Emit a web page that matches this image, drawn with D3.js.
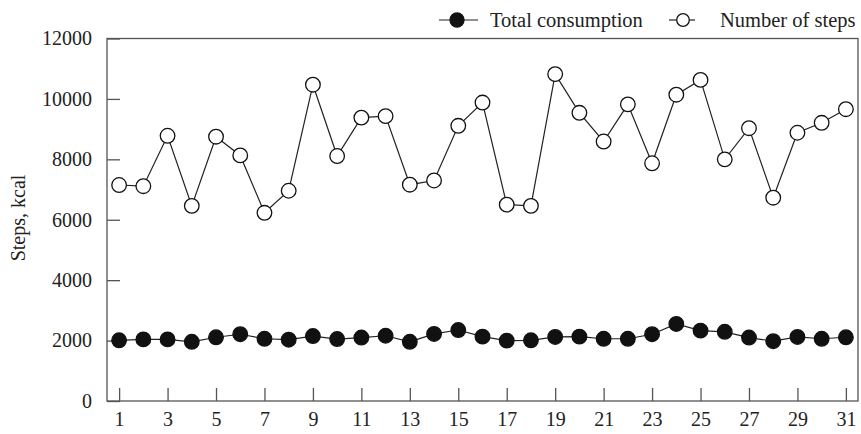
<!DOCTYPE html>
<html>
<head>
<meta charset="utf-8">
<script src="https://cdn.jsdelivr.net/npm/d3@7"></script>
<style>
  html, body { margin: 0; padding: 0; background: #fff; }
  svg { display: block; }
  text { font-family: "Liberation Serif", "DejaVu Serif", serif; fill: #222; }
</style>
</head>
<body>
<svg id="chart" width="861" height="434"></svg>
<script>
const days = d3.range(1, 32);
const steps = [7150, 7110, 8780, 6460, 8750, 8130, 6230, 6960, 10470, 8110,
               9380, 9430, 7160, 7300, 9110, 9880, 6500, 6460, 10820, 9540,
               8590, 9820, 7870, 10140, 10630, 8000, 9030, 6730, 8880, 9210, 9660];
const consumption = [2010, 2040, 2040, 1960, 2110, 2210, 2060, 2030, 2150, 2050,
                     2100, 2160, 1960, 2220, 2350, 2130, 2000, 2010, 2120, 2130,
                     2060, 2060, 2210, 2550, 2330, 2290, 2100, 1980, 2120, 2060, 2110];
const yTicks = [0, 2000, 4000, 6000, 8000, 10000, 12000];
const xTicks = [1, 3, 5, 7, 9, 11, 13, 15, 17, 19, 21, 23, 25, 27, 29, 31];
const seriesNames = ["Total consumption", "Number of steps"];

const svg = d3.select("#chart");
const m = { left: 107, right: 858, top: 38.5, bottom: 401 };
const x = d3.scaleLinear().domain([0.5, 31.5]).range([m.left, m.right]);
const y = d3.scaleLinear().domain([0, 12000]).range([m.bottom, m.top]);
const axisColor = "#555";
const lineColor = "#222";

// frame
svg.append("rect")
  .attr("x", m.left).attr("y", m.top)
  .attr("width", m.right - m.left).attr("height", m.bottom - m.top)
  .attr("fill", "none").attr("stroke", axisColor).attr("stroke-width", 1.3);

// y axis
const yAxis = svg.append("g").attr("transform", `translate(${m.left},0)`)
  .call(d3.axisLeft(y).tickValues(yTicks).tickSize(-13).tickPadding(15).tickFormat(d3.format("d")));
yAxis.select(".domain").remove();
yAxis.selectAll(".tick line").attr("stroke", axisColor).attr("stroke-width", 1.3);
yAxis.selectAll(".tick text").attr("font-size", 20).attr("font-family", "Liberation Serif").attr("fill", "#222");

// x axis
const xAxis = svg.append("g").attr("transform", `translate(0,${m.bottom})`)
  .call(d3.axisBottom(x).tickValues(xTicks).tickSize(-13).tickPadding(11).tickFormat(d3.format("d")));
xAxis.select(".domain").remove();
xAxis.selectAll(".tick line").attr("stroke", axisColor).attr("stroke-width", 1.3);
xAxis.selectAll(".tick text").attr("font-size", 20).attr("font-family", "Liberation Serif").attr("fill", "#222");

// y label
svg.append("text")
  .attr("transform", "translate(25,218) rotate(-90)")
  .attr("text-anchor", "middle")
  .attr("font-size", 20)
  .text("Steps, kcal");

const line = d3.line().x((d, i) => x(days[i])).y(d => y(d));

function drawSeries(vals, filled) {
  svg.append("path").datum(vals)
    .attr("d", line).attr("fill", "none")
    .attr("stroke", lineColor).attr("stroke-width", 1.2);
  svg.append("g").selectAll("circle").data(vals).join("circle")
    .attr("cx", (d, i) => x(days[i])).attr("cy", d => y(d))
    .attr("r", 7.3)
    .attr("fill", filled ? "#111" : "#fff")
    .attr("stroke", "#111").attr("stroke-width", 1.3);
}
drawSeries(steps, false);
drawSeries(consumption, true);

// legend
const ly = 20;
const leg = [
  { name: seriesNames[0], filled: true, x1: 439, x2: 478, cx: 457, r: 7, tx: 490 },
  { name: seriesNames[1], filled: false, x1: 669, x2: 695, cx: 683, r: 6.3, tx: 720 }
];
leg.forEach(l => {
  svg.append("line").attr("x1", l.x1).attr("x2", l.x2).attr("y1", ly).attr("y2", ly)
    .attr("stroke", lineColor).attr("stroke-width", 1.2);
  svg.append("circle").attr("cx", l.cx).attr("cy", ly).attr("r", l.r)
    .attr("fill", l.filled ? "#111" : "#fff").attr("stroke", "#111").attr("stroke-width", 1.3);
  svg.append("text").attr("x", l.tx).attr("y", ly).attr("dy", "0.35em")
    .attr("font-size", 20.5).text(l.name);
});
</script>
</body>
</html>
